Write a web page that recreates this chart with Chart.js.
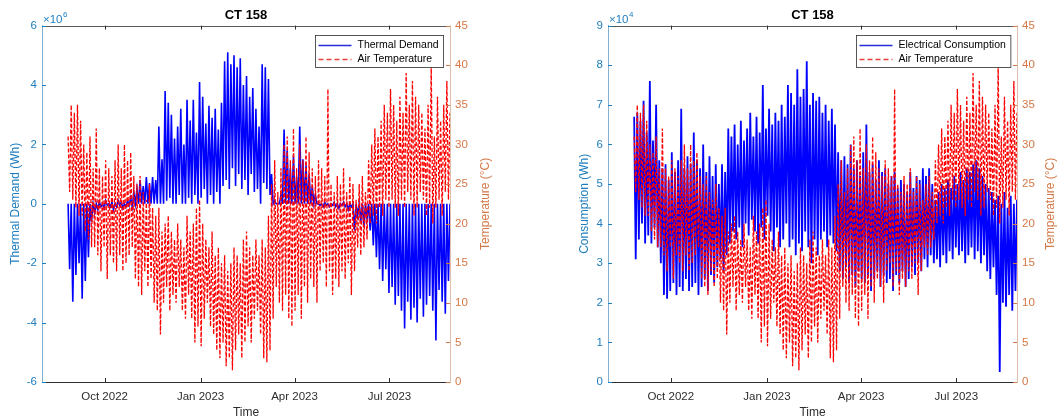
<!DOCTYPE html>
<html>
<head>
<meta charset="utf-8">
<title>CT 158</title>
<script src="https://cdn.jsdelivr.net/npm/chart.js@4.4.1/dist/chart.umd.min.js"></script>
<style>
  html, body { margin: 0; padding: 0; background: #fff; }
  #wrap { display: flex; width: 1062px; height: 420px; }
  canvas { display: block; }
</style>
</head>
<body>
<div id="wrap">
  <canvas id="thermalChart" width="531" height="420"></canvas>
  <canvas id="elecChart" width="531" height="420"></canvas>
</div>
<script>
'use strict'

// samples every 3 days from 27 Aug 2022, each one gives the high and the low of that stretch
const startDate = Date.UTC(2022, 7, 27);
const stepDays = 3;

// air temperature (°C)
const tempHigh = [31,35,34,35,33,30,29,31,27,32, 27,26,28,27,26,28,30,27,30,28,
  29,26,25,26,24,23,25,22,21,22, 19,20,21,19,18,20,18,17,21,19,
  20,22,23,20,18,17,19,16,17,15, 16,14,15,17,16,15,18,19,17,16,
  18,16,18,17,21,25,28,24,27,30, 31,28,32,27,30,28,31,29,27,26,
  28,27,26,37,25,24,26,25,27,24, 26,25,23,25,26,24,28,30,32,31,
  33,35,34,37,35,33,36,34,39,35, 38,36,35,34,32,35,40,31,36,33,
  35,38,34];
const tempLow = [24,23,22,21,21,19,18,17,17,16, 14,17,13,16,15,14,16,14,15,16,
  17,13,12,11,14,12,13,10,9,6, 10,12,9,11,10,12,9,8,11,8,
  5,7,4.5,8,10,7,6,4,3,5, 2,3,1.5,4,6,3,5,7,5,8,
  9,6,3,2.5,4,8,12,10,9,11, 8,7,9,11,8,12,10,13,12,10,
  14,15,12,14,11,13,12,14,13,15, 11,14,17,16,17,18,20,21,20,22,
  21,23,22,23,22,21,23,22,24,23, 21,22,24,23,21,22,20,22,23,21,
  24,23,24];

// thermal demand (x10^6 Wh)
const thermalHigh = [0,0,0,0,0,0,0,0,0,0, 0.05,0,0.1,0,0.05,0,0.1,0.05,0,0.1,
  0.2,0.4,0.5,0.8,0.6,0.9,0.7,0.9,0.8,2.6, 1.5,3.8,3.4,3.0,2.2,2.6,3.2,2.0,3.5,2.8,
  3.5,2.4,4.1,3.6,2.7,3.3,2.9,3.2,2.5,3.4, 4.8,5.1,4.7,5.0,4.6,4.9,4.0,4.3,3.6,3.9,
  3.2,2.6,4.7,4.6,4.2,1.0,0.1,0,0.3,2.5, 1.8,1.2,1.6,0.9,2.6,1.5,1.3,1.0,0.6,0.3,
  0,0,0.05,0,0,0.05,0,0,0.05,0, 0,0,0,0,0,0,0,0,0,0,
  0,0,0,0,0,0,0,0,0,0, 0,0,0,0,0,0,0,0,0,0,
  0,0,0];
const thermalLow = [-2.2,-3.3,-2.4,-2.0,-3.2,-2.6,-1.8,-0.6,-0.3,-0.2, -0.1,-0.15,-0.05,-0.1,-0.2,-0.1,-0.05,-0.15,-0.1,-0.05,
  -0.1,0,0,0,0,0,0,0,0,0, 0,0.1,0.2,0,0,0.3,0,0,0.2,0,
  0.3,0,0.2,0.5,0,0.3,0,0.4,0,0.6, 0.8,0.5,1.2,0.6,1.0,0.5,0.8,0.3,1.0,0.4,
  0.5,0,0.7,0.5,0.3,0,0,0,0,0, 0,0,0,0,0,0,0,0,0,0,
  -0.05,-0.1,-0.05,-0.1,-0.05,-0.1,-0.15,-0.05,-0.1,-0.2, -0.1,-0.9,-0.4,-0.6,-0.8,-0.5,-0.9,-1.4,-1.8,-2.2,
  -2.6,-2.2,-3.0,-2.8,-3.4,-3.1,-3.6,-4.2,-3.3,-3.9, -3.5,-4.0,-3.2,-3.8,-3.4,-3.1,-3.6,-4.6,-2.9,-3.3,
  -3.7,-2.6,-3.6];

// electrical consumption (x10^4 Wh)
const elecHigh = [6.7,6.8,6.6,7.1,6.3,7.6,6.1,7.0,5.6,5.4, 5.5,5.1,5.8,5.3,5.6,6.9,5.4,5.7,5.5,6.3,
  5.6,5.4,6.0,5.3,5.7,5.2,5.5,5.0,5.5,5.3, 6.4,6.2,6.5,6.0,6.6,6.1,6.4,6.8,6.2,6.7,
  6.3,7.5,6.4,6.9,6.5,6.8,6.6,7.0,6.7,7.5, 7.3,7.0,7.9,7.2,7.4,8.1,7.0,7.3,7.1,7.2,
  6.8,7.0,6.6,6.9,6.5,5.8,5.6,5.7,5.5,6.0, 5.4,5.6,5.2,5.8,6.5,5.3,5.5,5.1,5.6,5.3,
  5.4,5.0,5.2,5.3,4.9,5.1,5.0,4.8,5.3,4.9, 5.2,5.1,5.4,5.2,5.4,5.0,4.6,4.8,5.0,4.9,
  5.1,4.9,5.2,5.0,5.3,5.1,5.4,5.3,5.5,5.6, 5.4,5.2,5.0,4.9,4.8,4.6,4.7,4.5,4.8,4.4,
  4.7,4.5,4.6];
const elecLow = [3.1,3.6,4.0,3.5,3.7,3.5,3.9,3.4,3.0,2.2, 2.1,2.3,2.5,2.2,2.4,2.3,2.6,2.3,2.4,2.5,
  2.2,2.4,2.6,2.3,2.7,2.5,2.9,3.1,2.8,3.2, 3.5,3.8,3.6,3.9,3.4,4.0,3.7,4.1,3.8,3.5,
  3.9,3.6,4.2,3.8,3.3,3.9,3.4,3.6,4.0,3.4, 3.6,3.2,3.5,3.3,3.8,3.4,3.0,3.6,3.2,3.6,
  3.8,3.4,3.7,3.5,3.3,2.8,2.6,2.9,2.5,2.7, 2.4,2.8,2.6,2.5,2.7,2.3,2.6,2.8,2.4,2.7,
  2.5,2.6,2.3,2.7,2.5,2.8,2.4,2.6,2.9,2.7, 3.0,2.8,3.1,2.9,3.2,3.0,3.1,2.9,3.2,3.0,
  3.3,3.1,3.4,3.2,3.3,3.0,3.2,3.4,3.1,3.3, 3.0,3.2,2.8,2.6,2.9,2.2,0.25,2.0,1.9,2.2,
  1.8,2.3,2.4];

// time axis
const tickDates = [Date.UTC(2022, 9, 1), Date.UTC(2023, 0, 1), Date.UTC(2023, 3, 1), Date.UTC(2023, 6, 1)];
const tickLabels = ['Oct 2022', 'Jan 2023', 'Apr 2023', 'Jul 2023'];
const xStart = Date.UTC(2022, 7, 2);
const xEnd = Date.UTC(2023, 7, 28);

const DAY = 86400000;
const FONT = '"Liberation Sans", Arial, sans-serif';
const LEFT_COLOR = 'rgb(30,125,190)';
const LEFT_LINE = 'rgb(130,175,210)';
const RIGHT_COLOR = 'rgb(212,120,70)';
const RIGHT_LINE = 'rgb(225,190,170)';
const DARK = 'rgb(45,45,45)';
const BLUE = 'rgb(0,0,255)';
const RED = 'rgb(255,0,0)';

Chart.defaults.font.family = FONT;

function zigzag(high, low) {
  const pts = [];
  high.forEach((h, i) => {
    const t = startDate + i * stepDays * DAY;
    pts.push({x: t, y: h});
    pts.push({x: t + 1.5 * DAY, y: low[i]});
  });
  return pts;
}

// MATLAB-like frame: top box line, inward ticks, exponent, right axis title, legend
const matlabFrame = {
  id: 'matlabFrame',
  afterDraw(chart, args, o) {
    const {ctx, chartArea: a, scales} = chart;
    const tl = 4;
    function seg(x1, y1, x2, y2, color, width) {
      ctx.strokeStyle = color;
      ctx.lineWidth = width;
      ctx.beginPath(); ctx.moveTo(x1, y1); ctx.lineTo(x2, y2); ctx.stroke();
    }
    ctx.save();
    seg(a.left, Math.round(a.top) + 0.5, a.right, Math.round(a.top) + 0.5, 'rgb(90,90,90)', 1);
    scales.x.ticks.forEach(t => {
      const px = Math.round(scales.x.getPixelForValue(t.value)) + 0.5;
      seg(px, a.bottom, px, a.bottom - tl, DARK, 1);
      seg(px, a.top, px, a.top + tl, DARK, 1);
    });
    scales.y.ticks.forEach(t => {
      const py = Math.round(scales.y.getPixelForValue(t.value)) + 0.5;
      seg(a.left, py, a.left + tl, py, LEFT_COLOR, 1);
    });
    scales.y1.ticks.forEach(t => {
      const py = Math.round(scales.y1.getPixelForValue(t.value)) + 0.5;
      seg(a.right, py, a.right - tl, py, RIGHT_COLOR, 1);
    });

    // exponent label
    ctx.fillStyle = LEFT_COLOR;
    ctx.textAlign = 'left';
    ctx.textBaseline = 'alphabetic';
    ctx.font = '11.5px ' + FONT;
    ctx.fillText('\u00d710', a.left + 1, a.top - 3);
    const w = ctx.measureText('\u00d710').width;
    ctx.font = '8px ' + FONT;
    ctx.fillText(o.exponent, a.left + 1.5 + w, a.top - 9);

    // right axis title, read bottom to top
    ctx.save();
    ctx.translate(o.rightTitleX, (a.top + a.bottom) / 2);
    ctx.rotate(-Math.PI / 2);
    ctx.font = '12px ' + FONT;
    ctx.fillStyle = RIGHT_COLOR;
    ctx.textAlign = 'center';
    ctx.textBaseline = 'middle';
    ctx.fillText('Temperature (\u00b0C)', 0, 0);
    ctx.restore();

    // legend box
    ctx.font = '10.5px ' + FONT;
    const names = o.legend;
    const tw = Math.max(...names.map(n => ctx.measureText(n).width));
    const bw = 42 + tw + 5;
    const bx = Math.round(a.right - 7 - bw) + 0.5;
    const by = Math.round(a.top + 9) + 0.5;
    const bh = 32;
    ctx.fillStyle = '#fff';
    ctx.fillRect(bx, by, bw, bh);
    ctx.strokeStyle = DARK;
    ctx.lineWidth = 0.8;
    ctx.strokeRect(bx, by, bw, bh);
    const rows = [by + 10, by + 24];
    seg(bx + 3, rows[0], bx + 36, rows[0], 'rgb(40,40,220)', 1.5);
    ctx.setLineDash([5, 3]);
    seg(bx + 3, rows[1], bx + 36, rows[1], 'rgb(240,60,60)', 1.5);
    ctx.setLineDash([]);
    ctx.fillStyle = '#000';
    ctx.textAlign = 'left';
    ctx.textBaseline = 'middle';
    names.forEach((n, i) => ctx.fillText(n, bx + 42, rows[i]));
    ctx.restore();
  }
};

function makeChart(id, p) {
  return new Chart(document.getElementById(id), {
    type: 'line',
    data: {
      datasets: [{
        label: p.legend[0],
        data: zigzag(p.high, p.low),
        yAxisID: 'y',
        borderColor: BLUE,
        borderWidth: p.blueWidth,
        pointRadius: 0,
        tension: 0,
        order: 1
      }, {
        label: 'Air Temperature',
        data: zigzag(tempHigh, tempLow),
        yAxisID: 'y1',
        borderColor: RED,
        borderWidth: 1.3,
        borderDash: [4, 2],
        pointRadius: 0,
        tension: 0,
        order: 0
      }]
    },
    options: {
      responsive: false,
      animation: false,
      devicePixelRatio: 1,
      layout: {padding: 0},
      plugins: {
        legend: {display: false},
        tooltip: {enabled: false},
        title: {
          display: true,
          text: 'CT 158',
          fullSize: false,
          color: '#000',
          font: {size: 13, weight: 'bold'},
          padding: {top: 8, bottom: 2}
        },
        matlabFrame: {exponent: p.exponent, rightTitleX: p.rightTitleX, legend: [p.legend[0], 'Air Temperature']}
      },
      scales: {
        x: {
          type: 'linear',
          min: xStart,
          max: xEnd,
          grid: {display: false, drawTicks: false},
          border: {display: true, color: DARK, width: 1},
          afterBuildTicks: s => { s.ticks = tickDates.map(v => ({value: v})); },
          afterFit: s => { s.height = 38; },
          ticks: {
            callback: (v, i) => tickLabels[i],
            autoSkip: false,
            maxRotation: 0,
            padding: 8,
            color: DARK,
            font: {size: 11.5}
          },
          title: {display: true, text: 'Time', color: DARK, font: {size: 12}, padding: {top: 0, bottom: 0}}
        },
        y: {
          position: 'left',
          min: p.yMin,
          max: p.yMax,
          grid: {display: false, drawTicks: false},
          border: {display: true, color: LEFT_LINE, width: 1},
          afterFit: s => { s.width = p.leftWidth; },
          ticks: {stepSize: p.yStep, padding: 5, color: LEFT_COLOR, font: {size: 11.5}},
          title: {display: true, text: p.yTitle, color: LEFT_COLOR, font: {size: 12}, padding: {top: p.yTitlePad, bottom: 0}}
        },
        y1: {
          position: 'right',
          min: 0,
          max: 45,
          grid: {display: false, drawTicks: false},
          border: {display: true, color: RIGHT_LINE, width: 1},
          afterFit: s => { s.width = p.rightWidth; },
          ticks: {stepSize: 5, padding: 5, color: RIGHT_COLOR, font: {size: 11.5}}
        }
      }
    },
    plugins: [matlabFrame]
  });
}

makeChart('thermalChart', {
  high: thermalHigh, low: thermalLow,
  legend: ['Thermal Demand'],
  yMin: -6, yMax: 6, yStep: 2,
  yTitle: 'Thermal Demand (Wh)', yTitlePad: 8,
  exponent: '6', blueWidth: 1.6,
  leftWidth: 42, rightWidth: 81, rightTitleX: 486
});

makeChart('elecChart', {
  high: elecHigh, low: elecLow,
  legend: ['Electrical Consumption'],
  yMin: 0, yMax: 9, yStep: 1,
  yTitle: 'Consumption (Wh)', yTitlePad: 46,
  exponent: '4', blueWidth: 1.8,
  leftWidth: 77, rightWidth: 45, rightTitleX: 520
});
</script>
</body>
</html>
